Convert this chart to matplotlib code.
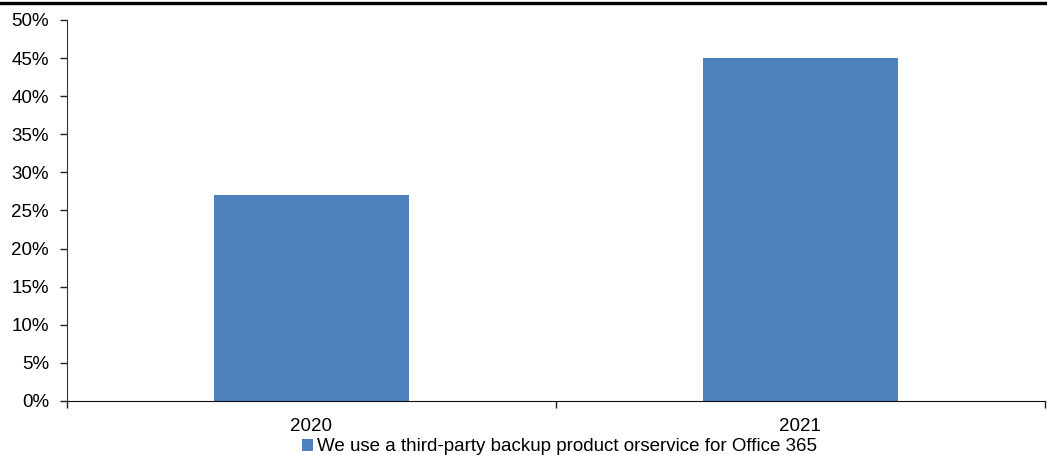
import matplotlib
matplotlib.use("Agg")
from matplotlib import pyplot as plt
from matplotlib.lines import Line2D
from matplotlib.ticker import FuncFormatter, MultipleLocator

years = ["2020", "2021"]
share = [27, 45]  # percent of respondents
series_name = "We use a third-party backup product orservice for Office 365"

plt.rcParams["font.family"] = ["Liberation Sans", "DejaVu Sans"]
plt.rcParams["font.size"] = 13.5

fig = plt.figure(figsize=(10.47, 4.55), dpi=100)
ax = fig.add_axes([0.064, 0.1187, 0.934, 0.8374])

x = range(len(years))
ax.bar(x, share, width=0.4, color="#4F81BD", label=series_name, zorder=2)

ax.set_xlim(-0.5, len(years) - 0.5)
ax.set_ylim(0, 50)
ax.yaxis.set_major_locator(MultipleLocator(5))
ax.yaxis.set_major_formatter(FuncFormatter(lambda v, p: f"{v:.0f}%"))

# category ticks sit between the bars, labels under the bars
ax.set_xticks([-0.5, 0.5, 1.5])
ax.set_xticklabels([])
ax.set_xticks(list(x), minor=True)
ax.set_xticklabels(years, minor=True)
ax.tick_params(axis="x", which="minor", length=0, pad=12, labelsize=13.5)
ax.tick_params(axis="x", which="major", length=5, width=1, color="#222222")
ax.tick_params(axis="y", length=5, width=1, color="#222222", pad=8, labelsize=13.5)

for side in ["top", "right"]:
    ax.spines[side].set_visible(False)
ax.spines["left"].set_color("#333333")
ax.spines["bottom"].set_color("#111111")

# heavy rule along the top edge
fig.add_artist(Line2D([0, 1], [0.9934, 0.9934], transform=fig.transFigure,
                      color="black", linewidth=2.4))

fig.legend(loc="lower center", bbox_to_anchor=(0.534, -0.038), frameon=False,
           handlelength=0.6, handleheight=0.6, handletextpad=0.2, fontsize=13.5)

fig.savefig("out.png", dpi=100)
